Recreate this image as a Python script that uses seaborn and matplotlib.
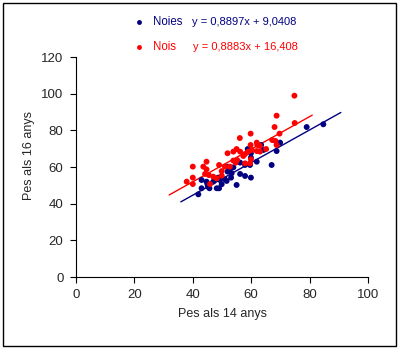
import numpy as np
import pandas as pd
import matplotlib
matplotlib.use("Agg")
import matplotlib.pyplot as plt
from matplotlib.lines import Line2D
import seaborn as sns

# Weight at 14 and 16 years (kg)
noies_14 = [84.7, 79.0, 69.9, 68.7, 67.0, 63.4, 64.2, 58.8, 59.9, 61.9, 59.6, 57.9, 56.2,
            53.9, 52.7, 51.9, 53.3, 56.2, 57.9, 59.9, 53.1, 51.0, 49.3, 48.7, 47.0, 49.9,
            51.6, 55.0, 48.2, 49.0, 45.7, 45.0, 44.7, 43.0, 43.0, 41.9, 45.2, 51.9, 59.9]
noies_16 = [83.3, 81.8, 73.3, 68.7, 61.1, 72.0, 69.3, 69.8, 65.1, 62.9, 61.1, 61.1, 62.4,
            59.8, 58.7, 57.5, 56.6, 56.2, 55.1, 54.2, 54.2, 53.3, 52.9, 54.2, 52.0, 50.6,
            52.4, 50.2, 48.4, 48.4, 48.4, 50.6, 52.0, 52.9, 48.4, 45.1, 49.3, 60.2, 67.5]

nois_14 = [74.8, 68.7, 68.0, 74.9, 59.8, 56.1, 69.7, 67.2, 68.3, 68.7, 61.9, 62.1, 59.8,
           63.0, 65.1, 55.0, 51.9, 53.9, 56.2, 57.9, 59.0, 60.2, 61.9, 63.0, 57.3, 59.9,
           53.9, 55.2, 54.7, 57.9, 59.6, 44.7, 40.0, 43.6, 44.7, 44.2, 49.0, 51.0, 52.7,
           49.9, 49.9, 47.0, 48.2, 37.9, 40.0, 40.0, 45.9, 45.5]
nois_16 = [98.9, 88.0, 81.8, 84.0, 78.2, 75.8, 78.2, 74.7, 74.2, 72.0, 73.3, 72.0, 72.0,
           71.5, 69.8, 69.8, 67.5, 68.4, 68.4, 67.1, 68.4, 69.3, 68.7, 68.4, 66.0, 64.2,
           63.5, 63.8, 62.4, 62.0, 62.0, 62.9, 60.2, 60.2, 58.7, 56.2, 61.1, 60.2, 60.2,
           57.8, 55.3, 54.7, 53.8, 52.0, 54.2, 50.7, 50.7, 55.6]

groups = ["Noies", "Nois"]
slopes = [0.8897, 0.8883]
intercepts = [9.0408, 16.408]
equations = ["y = 0,8897x + 9,0408", "y = 0,8883x + 16,408"]
x_ticks = [0, 20, 40, 60, 80, 100]
y_ticks = [0, 20, 40, 60, 80, 100, 120]

colors = {"Noies": "#000080", "Nois": "#FF0000"}
FORECAST = 6  # trendline extension beyond the data on both sides

df = pd.DataFrame({
    "pes14": noies_14 + nois_14,
    "pes16": noies_16 + nois_16,
    "grup": ["Noies"] * len(noies_14) + ["Nois"] * len(nois_14),
})

sns.set_style("white")
plt.rcParams["font.family"] = ["Liberation Sans", "DejaVu Sans"]

W, H = 398, 349
fig = plt.figure(figsize=(W / 100, H / 100), dpi=100)
ax = fig.add_axes([76 / W, 1 - 277 / H, (368 - 76) / W, (277 - 57) / H])

# Trendlines from the stated equations
for g, m, b in zip(groups, slopes, intercepts):
    xs = df.loc[df.grup == g, "pes14"]
    xx = np.array([xs.min() - FORECAST, xs.max() + FORECAST])
    sns.lineplot(x=xx, y=m * xx + b, ax=ax, color=colors[g], lw=1.0, zorder=2)

sns.scatterplot(data=df, x="pes14", y="pes16", hue="grup", palette=colors,
                s=18, marker="o", edgecolor="none", legend=False, ax=ax, zorder=3)

ax.set_xlim(0, 100)
ax.set_ylim(0, 120)
ax.set_xticks(x_ticks)
ax.set_yticks(y_ticks)
ax.tick_params(axis="both", direction="out", length=4, width=0.8, color="black",
               labelsize=9.5, pad=5, bottom=True, left=True)
for s in ["top", "right"]:
    ax.spines[s].set_visible(False)
for s in ["left", "bottom"]:
    ax.spines[s].set_color("black")
    ax.spines[s].set_linewidth(0.8)
ax.set_xlabel("")
ax.set_ylabel("")

fig.text(222 / W, 1 - 314 / H, "Pes als 14 anys", ha="center", va="center", fontsize=9)
fig.text(29 / W, 1 - 155 / H, "Pes als 16 anys", ha="center", va="center",
         rotation=90, fontsize=9)

# Legend with equations
for i, g in enumerate(groups):
    yy = 1 - (22 + 24.5 * i) / H
    fig.add_artist(Line2D([139 / W], [yy], transform=fig.transFigure, marker="o",
                          markersize=3.5, color=colors[g], markeredgewidth=0))
    fig.text(153 / W, yy, g, color=colors[g], ha="left", va="center", fontsize=8.3)
    fig.text((192 + i) / W, yy, equations[i], color=colors[g], ha="left", va="center",
             fontsize=8)

# Outer frame
fig.add_artist(plt.Rectangle((2.5 / W, 1 - 345.5 / H), 393.5 / W, 343 / H,
                             transform=fig.transFigure, fill=False,
                             edgecolor="black", lw=1.0))

fig.savefig("out.png", dpi=100)
